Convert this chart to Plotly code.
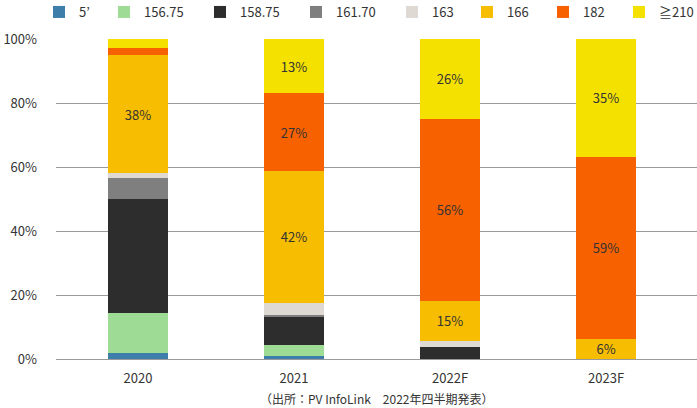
import plotly.graph_objects as go

categories = ["2020", "2021", "2022F", "2023F"]
series_names = ["5’", "156.75", "158.75", "161.70", "163", "166", "182", "≧210"]
colors = ["#3d7eaa", "#9edb94", "#2d2d2d", "#7f7f7f", "#ded9d2", "#f7bd00", "#f76100", "#f5e100"]

v_5 = [2.0, 1.0, 0.0, 0.0]
v_15675 = [12.5, 3.5, 0.0, 0.0]
v_15875 = [35.6, 8.7, 3.8, 0.0]
v_16170 = [6.6, 0.7, 0.0, 0.0]
v_163 = [1.5, 3.7, 1.9, 0.0]
v_166 = [36.7, 41.2, 12.5, 6.3]
v_182 = [2.4, 24.2, 56.9, 56.9]
v_210 = [2.7, 17.0, 24.9, 36.8]

lbl_166 = ["38%", "42%", "15%", "6%"]
lbl_182 = ["", "27%", "56%", "59%"]
lbl_210 = ["", "13%", "26%", "35%"]

values = [v_5, v_15675, v_15875, v_16170, v_163, v_166, v_182, v_210]
labels = [None, None, None, None, None, lbl_166, lbl_182, lbl_210]

y_ticks = [0, 20, 40, 60, 80, 100]
y_ticktext = ["0%", "20%", "40%", "60%", "80%", "100%"]

FONT = "Noto Sans CJK JP"
W, H = 697, 408

# legend entry square centres (px) in the reference layout
legend_centres = [61, 126, 222, 318, 414, 489, 565, 641]
SYMBOL_OFFSET = 22

fig = go.Figure()
legend_layouts = {}
for i, (name, col, vals, lab) in enumerate(zip(series_names, colors, values, labels)):
    lname = "legend" if i == 0 else f"legend{i+1}"
    fig.add_trace(go.Bar(
        name=name,
        x=categories,
        y=vals,
        legend=lname,
        showlegend=True,
        marker=dict(color=col, line=dict(width=0)),
        width=0.385,
        text=lab if lab else None,
        texttemplate="%{text}" if lab else None,
        textposition="inside" if lab else "none",
        insidetextanchor="middle",
        textangle=0,
        constraintext="none",
        textfont=dict(family=FONT, size=13, color="#333333"),
        hoverinfo="skip",
    ))
    legend_layouts[lname] = dict(
        orientation="h",
        xref="container", yref="container",
        x=(legend_centres[i] - SYMBOL_OFFSET) / W, y=1 - 12 / H,
        xanchor="left", yanchor="middle",
        font=dict(family=FONT, size=13, color="#333333"),
        itemwidth=30,
        bgcolor="rgba(0,0,0,0)",
        borderwidth=0,
    )

fig.update_layout(
    barmode="stack",
    showlegend=True,
    width=W,
    height=H,
    margin=dict(l=56, r=0, t=39, b=49, autoexpand=False),
    paper_bgcolor="white",
    plot_bgcolor="white",
    font=dict(family=FONT, size=13, color="#333333"),
    xaxis=dict(
        type="category",
        range=[-0.526, 3.583],
        showgrid=False,
        zeroline=False,
        showline=False,
        ticks="",
        ticklabelstandoff=10,
        tickfont=dict(family=FONT, size=13, color="#333333"),
    ),
    yaxis=dict(
        range=[0, 100],
        tickvals=y_ticks,
        ticktext=y_ticktext,
        showgrid=True,
        gridcolor="#9a9a9a",
        gridwidth=1,
        zeroline=True,
        zerolinecolor="#9a9a9a",
        zerolinewidth=1,
        ticks="",
        ticklabelstandoff=18,
        tickfont=dict(family=FONT, size=13, color="#333333"),
    ),
    annotations=[dict(
        text="（出所：PV InfoLink　2022年四半期発表）",
        xref="paper", yref="paper",
        x=0.5, y=-0.124, xanchor="center", yanchor="middle",
        showarrow=False,
        font=dict(family=FONT, size=12, color="#333333"),
    )],
    **legend_layouts,
)

fig.write_html(
    "out.html",
    config={"displayModeBar": False},
    post_script="document.body.style.margin='0';document.body.style.padding='0';",
)
